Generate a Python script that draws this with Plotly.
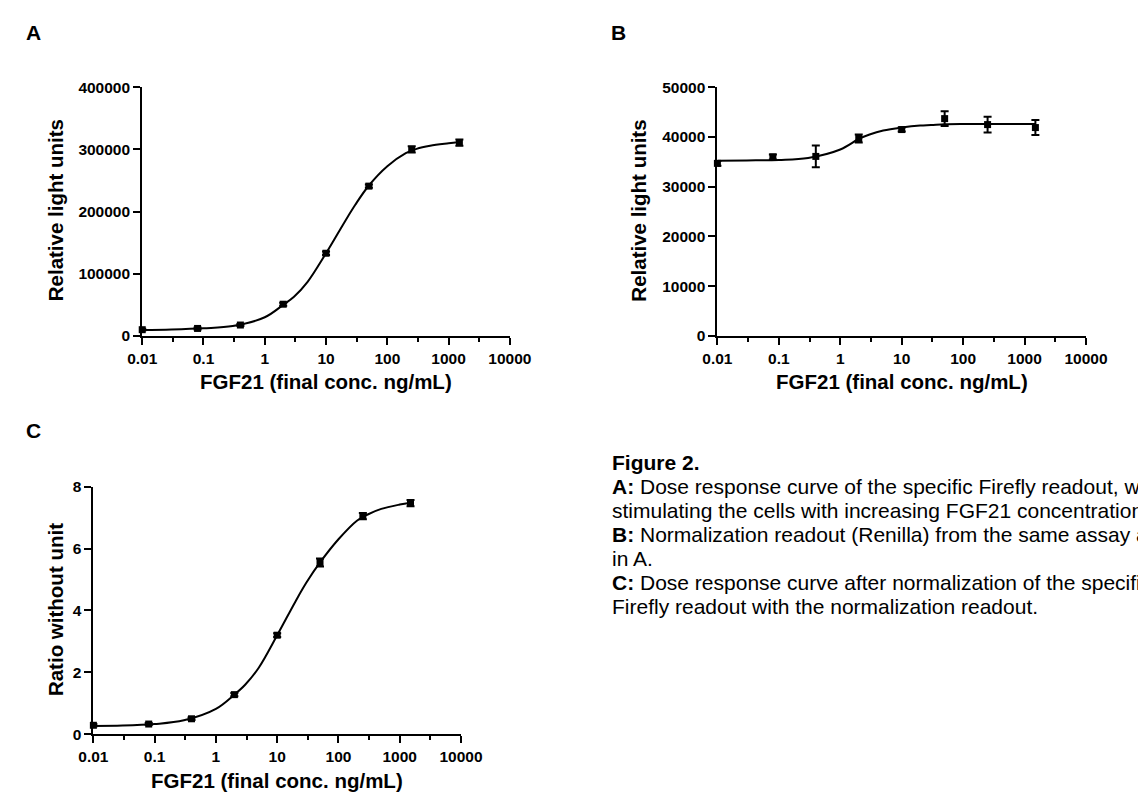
import plotly.graph_objects as go

# FGF21 concentrations (ng/mL); the 0 control is plotted at 0.01
conc = [0.01, 0.08, 0.4, 2, 10, 50, 250, 1500]

# A: Firefly readout (RLU)
a_mean = [10000, 12000, 17500, 51000, 133000, 241000, 300000, 311000]
a_err = [1500, 1500, 1500, 2500, 3000, 2500, 5000, 5000]

# B: Renilla readout (RLU)
b_mean = [34700, 36000, 36100, 39700, 41500, 43700, 42500, 41900]
b_err = [500, 500, 2200, 800, 400, 1500, 1600, 1500]

# C: ratio Firefly / Renilla
c_mean = [0.29, 0.33, 0.5, 1.28, 3.2, 5.55, 7.05, 7.47]
c_err = [0.04, 0.03, 0.04, 0.05, 0.06, 0.13, 0.1, 0.1]

# fitted curves
fit_x = [0.01, 0.03, 0.1, 0.3, 1, 2, 3, 5, 10, 20, 30, 50, 100, 200, 300, 500, 1000, 1500]
a_fit = [9500, 10300, 12200, 15800, 30000, 50000, 63000, 87000, 133000, 183000, 211000,
         242000, 273000, 294000, 301000, 306000, 310000, 312000]
b_fit = [35250, 35300, 35400, 35800, 37500, 39600, 40500, 41300, 41900, 42300, 42400,
         42550, 42600, 42600, 42600, 42600, 42600, 42600]
c_fit = [0.27, 0.28, 0.33, 0.45, 0.82, 1.28, 1.6, 2.15, 3.2, 4.3, 4.9, 5.55, 6.3, 6.9,
         7.1, 7.28, 7.42, 7.48]

x_ticks = [0.01, 0.1, 1, 10, 100, 1000, 10000]
x_ticktext = ["0.01", "0.1", "1", "10", "100", "1000", "10000"]
x_minor = [0.0316, 0.316, 3.16, 31.6, 316, 3162]
a_yticks = [0, 100000, 200000, 300000, 400000]
b_yticks = [0, 10000, 20000, 30000, 40000, 50000]
c_yticks = [0, 2, 4, 6, 8]

x_title = "FGF21 (final conc. ng/mL)"
caption = [
    "<b>Figure 2.</b>",
    "<b>A:</b> Dose response curve of the specific Firefly readout, when",
    "stimulating the cells with increasing FGF21 concentrations.",
    "<b>B:</b> Normalization readout (Renilla) from the same assay as",
    "in A.",
    "<b>C:</b> Dose response curve after normalization of the specific",
    "Firefly readout with the normalization readout.",
]

W, H = 1138, 800
FONT = "Liberation Sans, Arial, sans-serif"


def px_x(p):
    return p / W


def px_y(p):
    return 1 - p / H


panels = [
    # mean, err, fit, yticks, ytitle, x px domain, y px domain, y title x px
    (a_mean, a_err, a_fit, a_yticks, "Relative light units", (131.5, 511.5), (80, 334), 42),
    (b_mean, b_err, b_fit, b_yticks, "Relative light units", (726, 1107), (80, 334), 645),
    (c_mean, c_err, c_fit, c_yticks, "Ratio without unit", (81, 461), (488, 741), 42),
]

fig = go.Figure()
layout = dict(width=W, height=H, margin=dict(l=0, r=0, t=0, b=0),
              paper_bgcolor="white", plot_bgcolor="white", showlegend=False,
              font=dict(family=FONT, color="black"))
annotations = []

for i, (mean, err, fit, yticks, ytitle, xd, yd, tx) in enumerate(panels):
    n = "" if i == 0 else str(i + 1)
    xa, ya = "x" + n, "y" + n
    fig.add_trace(go.Scatter(x=fit_x, y=fit, mode="lines", xaxis=xa, yaxis=ya,
                             line=dict(color="black", width=2, shape="spline"),
                             cliponaxis=False, hoverinfo="skip"))
    fig.add_trace(go.Scatter(x=conc, y=mean, mode="markers", xaxis=xa, yaxis=ya,
                             marker=dict(symbol="square", size=7, color="black"),
                             error_y=dict(type="data", array=err, color="black",
                                          thickness=2, width=4),
                             cliponaxis=False))
    layout["xaxis" + n] = dict(
        type="log", range=[-2, 4], domain=[px_x(xd[0]), px_x(xd[1])], anchor=ya,
        tickmode="array", tickvals=x_ticks, ticktext=x_ticktext,
        showline=True, linecolor="black", linewidth=2, ticks="outside", ticklen=7,
        tickwidth=2, tickcolor="black", showgrid=False, zeroline=False,
        tickfont=dict(family=FONT, size=15.5, color="black", weight="bold"),
        minor=dict(tickvals=x_minor, ticks="outside", ticklen=4, tickwidth=2,
                   tickcolor="black", showgrid=False))
    layout["yaxis" + n] = dict(
        range=[yticks[0], yticks[-1]], domain=[px_y(yd[1]), px_y(yd[0])], anchor=xa,
        tickmode="array", tickvals=yticks, ticktext=[str(v) for v in yticks],
        showline=True, linecolor="black", linewidth=2, ticks="outside", ticklen=7,
        tickwidth=2, tickcolor="black", showgrid=False, zeroline=False,
        tickfont=dict(family=FONT, size=15.5, color="black", weight="bold"))

    # axis titles
    annotations.append(dict(text="<b>%s</b>" % x_title, xref="paper", yref="paper",
                            x=px_x((xd[0] + xd[1]) / 2), y=px_y(yd[1] + 47),
                            showarrow=False, xanchor="center", yanchor="middle",
                            font=dict(size=20.5)))
    annotations.append(dict(text="<b>%s</b>" % ytitle, xref="paper", yref="paper",
                            x=px_x(tx), y=px_y((yd[0] + yd[1]) / 2 - 1),
                            textangle=-90, showarrow=False, xanchor="center",
                            yanchor="middle", font=dict(size=20.5)))

# panel letters
for letter, lx, ly in [("A", 19.5, 24), ("B", 623.5, 24), ("C", 19.5, 430.5)]:
    annotations.append(dict(text="<b>%s</b>" % letter, xref="paper", yref="paper",
                            x=px_x(lx), y=px_y(ly), showarrow=False,
                            xanchor="center", yanchor="middle", font=dict(size=21)))

# caption, one line per annotation (runs past the right edge like the original)
for k, line in enumerate(caption):
    annotations.append(dict(text=line, xref="paper", yref="paper",
                            x=px_x(615), y=px_y(463 + 24.5 * k), showarrow=False,
                            xanchor="left", yanchor="middle", font=dict(size=21)))

layout["annotations"] = annotations
fig.update_layout(**layout)
# no page margin, so the 1138x800 figure fills the window exactly
fig.write_html("out.html", config={"displayModeBar": False},
               post_script="document.body.style.margin='0';"
                           "document.body.style.overflow='hidden';")
